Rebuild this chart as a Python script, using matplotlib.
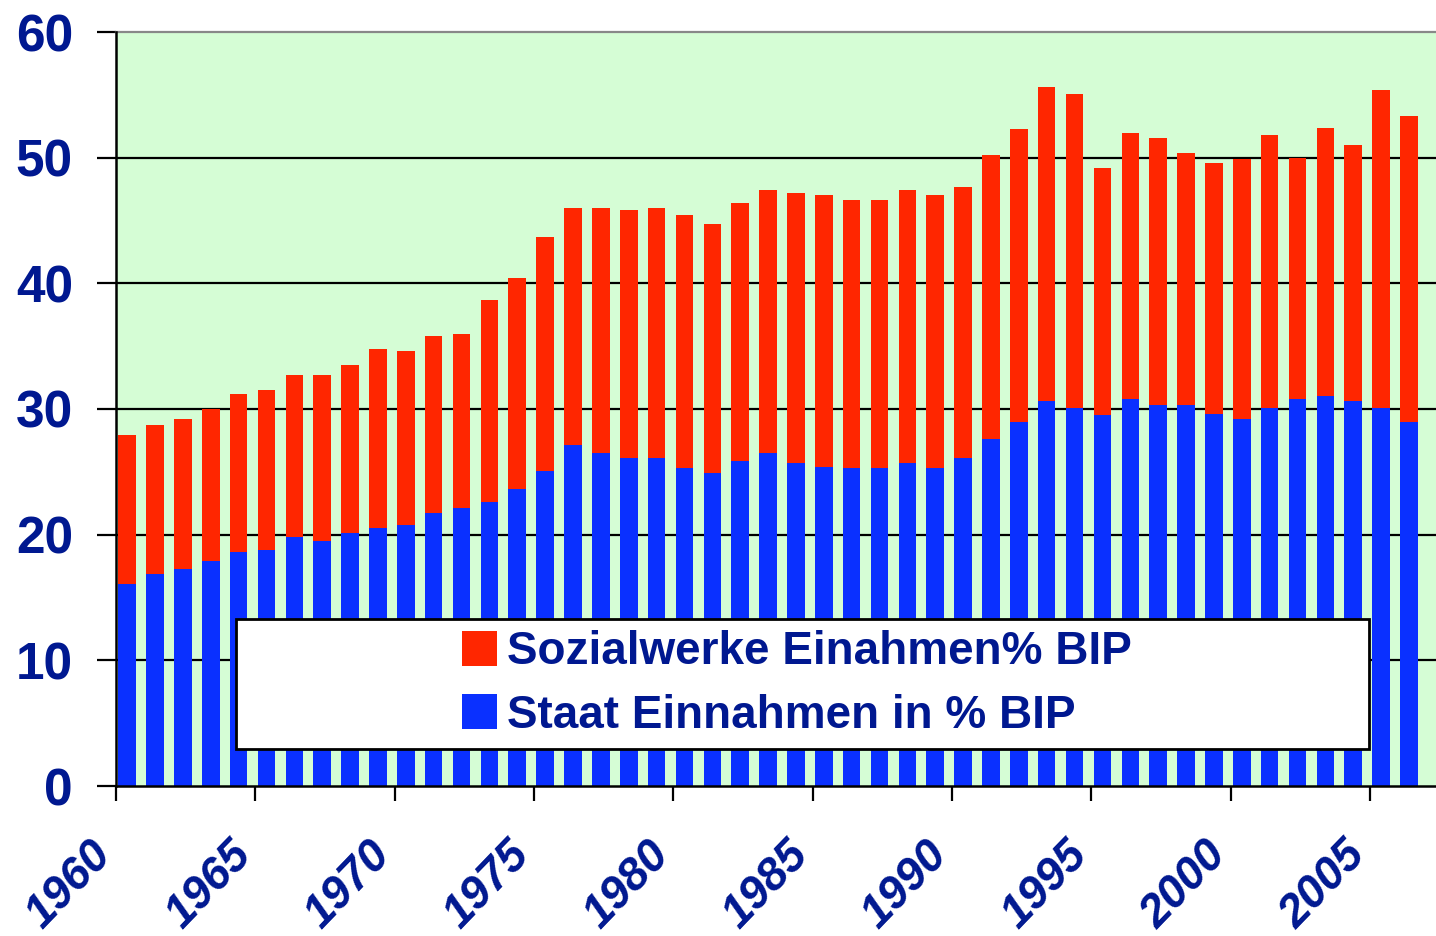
import matplotlib
matplotlib.use("Agg")
import matplotlib.pyplot as plt
import matplotlib.transforms as mtransforms
from matplotlib import font_manager
from matplotlib.patches import Rectangle
import numpy as np

years = list(range(1960, 2007))
staat = [16.1, 16.9, 17.3, 17.9, 18.6, 18.8, 19.8, 19.5, 20.1, 20.5,
         20.8, 21.7, 22.1, 22.6, 23.6, 25.1, 27.1, 26.5, 26.1, 26.1,
         25.3, 24.9, 25.9, 26.5, 25.7, 25.4, 25.3, 25.3, 25.7, 25.3,
         26.1, 27.6, 29.0, 30.6, 30.1, 29.5, 30.8, 30.3, 30.3, 29.6,
         29.2, 30.1, 30.8, 31.0, 30.6, 30.1, 29.0]
sozial = [11.8, 11.8, 11.9, 12.1, 12.6, 12.7, 12.9, 13.2, 13.4, 14.3,
          13.8, 14.1, 13.9, 16.1, 16.8, 18.6, 18.9, 19.5, 19.7, 19.9,
          20.1, 19.8, 20.5, 20.9, 21.5, 21.6, 21.3, 21.3, 21.7, 21.7,
          21.6, 22.6, 23.3, 25.0, 25.0, 19.7, 21.2, 21.3, 20.1, 20.0,
          20.7, 21.7, 19.2, 21.4, 20.4, 25.3, 24.3]
label_sozial = "Sozialwerke Einahmen% BIP"
label_staat = "Staat Einnahmen in % BIP"
yticks = [0, 10, 20, 30, 40, 50, 60]
xticks = list(range(1960, 2006, 5))

RED = "#FF2600"
BLUE = "#0A30FF"
GREEN = "#D5FDD5"
NAVY = "#001890"

plt.rcParams['font.family'] = ['Liberation Sans', 'DejaVu Sans']

installed = {f.name for f in font_manager.fontManager.ttflist}
if 'Liberation Sans Narrow' in installed:
    xfam, xsize = ['Liberation Sans Narrow', 'Liberation Sans'], 36
else:
    xfam, xsize = ['Liberation Sans', 'DejaVu Sans'], 33

fig = plt.figure(figsize=(14.36, 9.36), dpi=100)
ax = fig.add_axes([116/1436, 150/936, 1 - 116/1436, (786-32)/936])
ax.set_facecolor(GREEN)

x = np.array(years) + 0.4
b1 = ax.bar(x, staat, width=0.63, color=BLUE, zorder=3, label=label_staat)
b2 = ax.bar(x, sozial, width=0.63, bottom=staat, color=RED, zorder=3, label=label_sozial)

ax.set_xlim(1960, 2007.37)
ax.set_ylim(0, 60)
ax.set_yticks(yticks)
ax.set_xticks(xticks)
for v in yticks[1:-1]:
    ax.axhline(v, color='black', lw=1.6, zorder=2)

ax.spines['right'].set_visible(False)
ax.spines['top'].set_color('#888888')
ax.spines['top'].set_linewidth(1.6)
ax.spines['left'].set_linewidth(1.8)
ax.spines['bottom'].set_linewidth(1.8)
ax.spines['left'].set_zorder(4)
ax.spines['bottom'].set_zorder(4)

ax.tick_params(axis='y', direction='out', length=14, width=1.6, pad=17,
               labelsize=37, labelcolor=NAVY)
ax.tick_params(axis='x', direction='out', length=11, width=1.6, pad=23,
               labelsize=xsize, labelcolor=NAVY)
for t in ax.get_yticklabels():
    t.set_fontweight('bold')
offset = mtransforms.ScaledTranslation(-0.27, 0, fig.dpi_scale_trans)
for t in ax.get_xticklabels():
    t.set_family(xfam)
    t.set_fontweight('bold')
    t.set_fontstyle('italic')
    t.set_rotation(46)
    t.set_ha('right')
    t.set_va('top')
    t.set_rotation_mode('anchor')
    t.set_transform(t.get_transform() + offset)

# legend box
rect = Rectangle((236/1436, (936-749)/936), (1369-236)/1436, 130/936,
                 transform=fig.transFigure, facecolor='white', edgecolor='black',
                 lw=2.0, zorder=10)
fig.patches.append(rect)

leg = fig.legend([b2, b1], [label_sozial, label_staat],
                 loc='center', bbox_to_anchor=(797/1436, 1 - 684/936),
                 frameon=False, fontsize=33, handlelength=0.78, handleheight=0.78,
                 handletextpad=0.22, labelspacing=0.42, borderpad=0)
for t in leg.get_texts():
    t.set_color(NAVY)
    t.set_fontweight('bold')
leg.set_zorder(11)

fig.savefig("out.png", dpi=100)
